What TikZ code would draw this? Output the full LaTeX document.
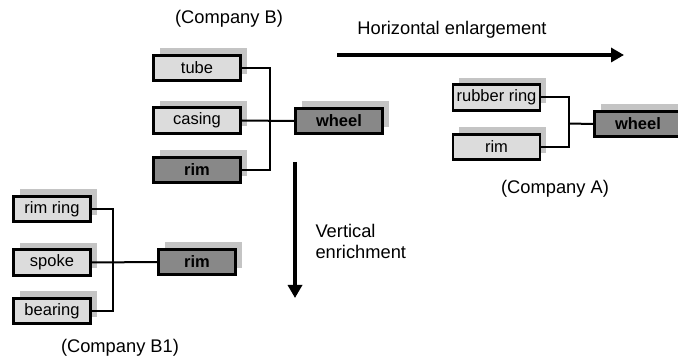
\documentclass[tikz,border=0pt]{standalone}
\usepackage{fontspec}
\setmainfont{Liberation Sans}
\usepackage{tikz}
\usetikzlibrary{arrows.meta,shadows}

\definecolor{partfill}{HTML}{DCDCDC}
\definecolor{wholefill}{HTML}{888888}
\definecolor{shadowfill}{HTML}{C4C4C4}

\tikzset{
	part/.style={fill=partfill,minimum width=87pt,minimum height=25.5pt,
		inner sep=0pt,font=\fontsize{16.5}{18}\selectfont,
		copy shadow={shadow xshift=6pt,shadow yshift=7pt,fill=shadowfill,draw=none},
		draw=black,line width=2.6pt},
	whole/.style={part,fill=wholefill,font=\fontsize{16.5}{18}\selectfont\bfseries},
	small/.style={minimum width=77pt},
	label/.style={font=\fontsize{18.3}{21}\selectfont},
	bracket/.style={line width=2pt},
}

\begin{document}
\begin{tikzpicture}[x=1pt,y=-1pt]
		\useasboundingbox (0,0) rectangle (678,358);
		% company B
		\node[part] (tube) at (197,68) {tube};
		\node[part] (casing) at (197,120.5) {casing};
		\node[whole] (rimB) at (197,170) {rim};
		\node[whole] (wheelB) at (339,121) {wheel};
		\coordinate (jB) at (270,120.5);
		% company A
		\node[part] (ring) at (496.5,97.5) {rubber ring};
		\node[part] (rimA) at (496.5,147) {rim};
		\node[whole] (wheelA) at (638,124) {wheel};
		\coordinate (jA) at (569,123.5);
		% company B1
		\node[part,small] (rimring) at (52,209) {rim ring};
		\node[part,small] (spoke) at (52,262.5) {spoke};
		\node[part,small] (bearing) at (52,311) {bearing};
		\node[whole,small] (rimB1) at (197,262) {rim};
		\coordinate (jB1) at (113,262.5);
		% arrows
		\coordinate (H) at (337,55);
		\coordinate (H') at (624,55);
		\coordinate (V) at (295,162);
		\coordinate (V') at (295,298);
		%
		\node[label] (compB) at (229,19) {(Company B)};
		\node[label] (compA) at (555,189) {(Company A)};
		\node[label] (compB1) at (120,348) {(Company B1)};
		\node[label] (hlabel) at (452,30) {Horizontal enlargement};
		\node[label,anchor=west,align=left] (vlabel) at (312,241) {Vertical\\enrichment};
		%
		% brackets
		\draw[bracket] (tube.east) -| (jB) |- (rimB.east);
		\draw[bracket] (casing.east) -- (wheelB.west);
		\draw[bracket] (ring.east) -| (jA) |- (rimA.east);
		\draw[bracket] (jA) -- (wheelA.west);
		\draw[bracket] (rimring.east) -| (jB1) |- (bearing.east);
		\draw[bracket] (spoke.east) -- (rimB1.west);
		%
		\path[->,line width=4pt,>={Triangle[length=13pt,width=14pt]}]
		(H) edge (H')
		(V) edge (V');
	\end{tikzpicture}
\end{document}
